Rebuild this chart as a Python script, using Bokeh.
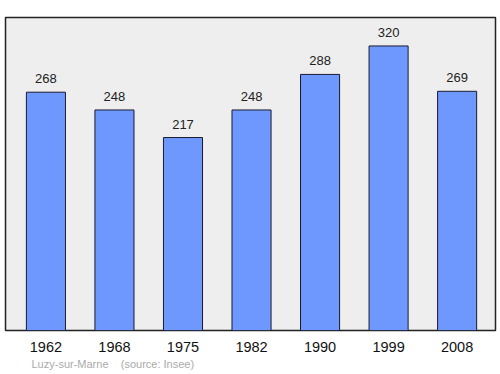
from bokeh.plotting import figure
from bokeh.models import Range1d, Title, ColumnDataSource
from bokeh.embed import file_html
from bokeh.resources import INLINE

years = ["1962", "1968", "1975", "1982", "1990", "1999", "2008"]
population = [268, 248, 217, 248, 288, 320, 269]
source_note = "Luzy-sur-Marne\u00a0\u00a0\u00a0\u00a0(source: Insee)"

xs = list(range(len(years)))
src = ColumnDataSource(dict(x=xs, top=population, lbl=[str(v) for v in population]))

p = figure(width=500, height=374, output_backend="svg", toolbar_location=None,
           x_range=Range1d(-0.59, 6.56), y_range=Range1d(0, 352),
           min_border_left=5, min_border_right=5, min_border_top=17, min_border_bottom=44)
p.background_fill_color = "#eeeeee"
p.border_fill_color = "white"
p.outline_line_color = "#222222"
p.outline_line_width = 1.5
p.grid.visible = False

p.vbar(x="x", top="top", width=0.57, bottom=0, source=src,
       fill_color="#6f98ff", line_color="#1a1a2e", line_width=1)

p.text(x="x", y="top", text="lbl", source=src, text_align="center",
       text_baseline="bottom", y_offset=-9, text_font_size="13px",
       text_color="#222222", text_font={"value": "Liberation Sans"})

p.yaxis.visible = False
xa = p.xaxis[0]
xa.ticker = xs
xa.major_label_overrides = {i: y for i, y in enumerate(years)}
xa.axis_line_color = None
xa.major_tick_line_color = None
xa.minor_tick_line_color = None
xa.major_label_text_font_size = "14.5px"
xa.major_label_text_font = "Liberation Sans"
xa.major_label_text_color = "#111111"
xa.major_label_standoff = 5

note = Title(text=source_note, align="left", offset=26, text_font_size="11px",
             text_color="#aaaaaa", text_font="Liberation Sans", text_font_style="normal",
             standoff=3)
p.add_layout(note, "below")

open("out.html", "w").write(file_html(p, INLINE))
